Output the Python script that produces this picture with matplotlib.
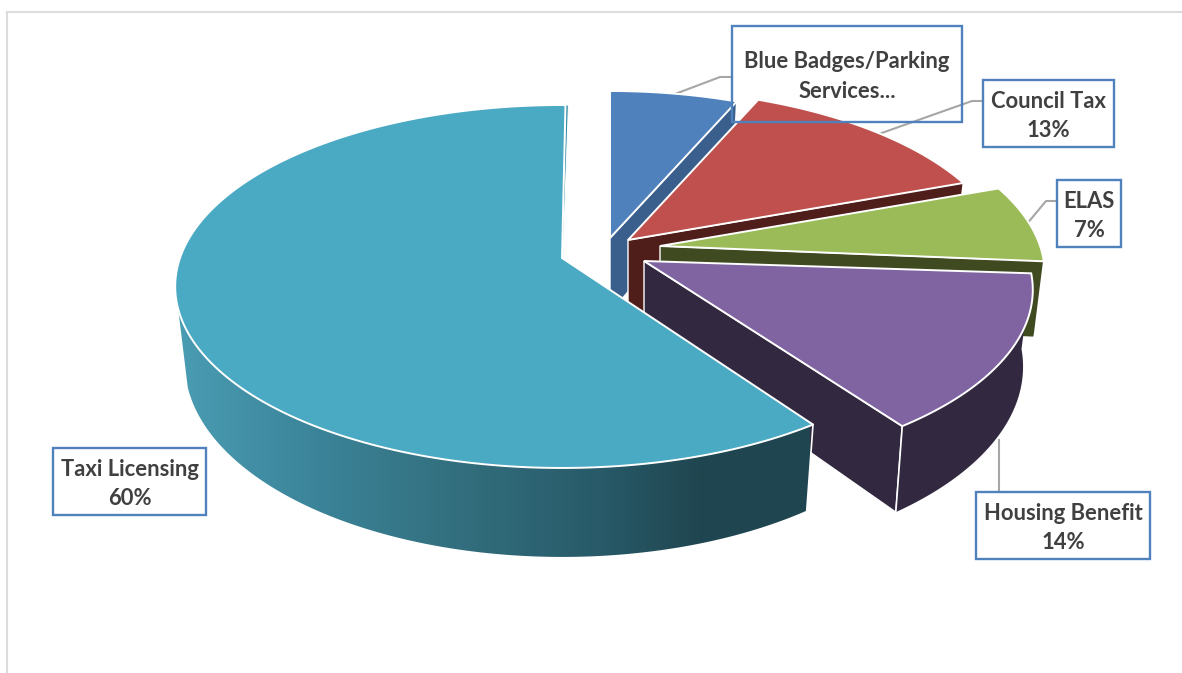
import numpy as np
import matplotlib
matplotlib.use('Agg')
import matplotlib.pyplot as plt
from matplotlib.colors import to_rgb
from matplotlib.patches import Polygon, Rectangle

# share of complaints per service, clockwise from twelve o'clock
services = ['Blue Badges/Parking', 'Council Tax', 'ELAS', 'Housing Benefit', 'Taxi Licensing']
values = [6.5, 13, 7, 14, 60]

top_colors = ['#4f81bd', '#c0504d', '#9bbb59', '#8064a2', '#4aa9c3']
side_colors = ['#3a5f8c', '#4f1d1a', '#3f4a20', '#322840', '#3a8fa5']

# pixel layout of the exploded slices
apex = [(610, 238), (628, 240), (660, 246), (644, 261), (562, 258)]
slice_scale = [0.955, 0.985, 0.995, 1.005, 1.0]
slice_turn = [0, 0, 0, 1.0, 0]

label_text = ['Blue Badges/Parking\nServices...', 'Council Tax\n13%', 'ELAS\n7%',
              'Housing Benefit\n14%', 'Taxi Licensing\n60%']
label_box = [(732, 26, 962, 122), (983, 80, 1114, 147), (1057, 180, 1121, 247),
             (976, 492, 1150, 559), (53, 448, 206, 515)]
leaders = [[(675, 94), (720, 77), (732, 77)],
           [(876, 135), (972, 101), (983, 101)],
           [(1026, 225), (1046, 201), (1057, 201)],
           [(999, 440), (999, 492)]]

RX, RY = 382, 177
PERSP = 0.157
DEPTH = 75
SHRINK = 0.025


def project(center, scale, t, z=0.0):
    # t in degrees on the pie disc, z=0 top surface, z=1 bottom
    x = scale * np.cos(np.radians(t))
    y = scale * np.sin(np.radians(t))
    w = 1 + PERSP * y
    s = 1 - SHRINK * z
    return np.column_stack([center[0] + RX * x * s / w,
                            center[1] - RY * y / w + DEPTH * z / w])


def wall_gradient():
    # taxi slice wall gets darker from left to right
    stops_x = [175, 320, 450, 600, 700, 810]
    stops_c = ['#4a9db4', '#3b8398', '#33707f', '#285a69', '#204650', '#1f4650']
    rgb = np.array([to_rgb(c) for c in stops_c])
    px = np.arange(stops_x[0], stops_x[-1] + 1)
    return np.dstack([np.interp(px, stops_x, rgb[:, i]) for i in range(3)]), stops_x[0], stops_x[-1]


fig = plt.figure(figsize=(11.82, 6.73), dpi=100)
ax = fig.add_axes([0, 0, 1, 1])
ax.axis('off')

# chart area frame
ax.plot([7, 7, 1182], [673, 12, 12], color='#dcdcdc', lw=1.5, solid_joinstyle='miter', zorder=1)

for pts in leaders:
    pts = np.array(pts)
    ax.plot(pts[:, 0], pts[:, 1], color='#a6a6a6', lw=1.5, zorder=2)

z = 3
angle = 90.0
total = sum(values)
for i in range(len(values)):
    end = angle - values[i] / total * 360
    c = apex[i]
    sc = slice_scale[i]
    low_c = (c[0], c[1] + DEPTH)

    if services[i] == 'Taxi Licensing':
        # long way round, counter-clockwise from the top
        stop = 90 + values[i] / total * 360
        ts = np.linspace(90 - 0.6, stop, 400)
        rim_top = project(c, sc, ts)
        # wall only needs the part facing the viewer
        ts_front = np.linspace(196, stop, 200)
        front_top = project(c, sc, ts_front)
        front_bot = project(c, sc, ts_front, 1)
        wall = np.vstack([front_top, front_bot[::-1]])
        grad, g0, g1 = wall_gradient()
        im = ax.imshow(grad, extent=(g0, g1, 570, 100), aspect='auto', zorder=z)
        clip = Polygon(wall, closed=True, transform=ax.transData)
        im.set_clip_path(clip)
        z += 1
        # thin cut face at twelve o'clock
        face = [c, rim_top[0], (rim_top[0][0] + 3, rim_top[0][1]), (c[0] + 1, c[1])]
        ax.add_patch(Polygon(face, closed=True, fc=side_colors[i], ec='white', lw=0.8, zorder=z))
        z += 1
        ax.plot([front_top[-1][0], front_bot[-1][0]], [front_top[-1][1], front_bot[-1][1]],
                color='white', lw=1.2, zorder=z + 1)
    else:
        ts = np.linspace(angle, end, 120) + slice_turn[i]
        rim_top = project(c, sc, ts)
        rim_bot = project(c, sc, ts, 1)
        # radial cut face on the clockwise side
        face = [c, rim_top[-1], rim_bot[-1], low_c]
        ax.add_patch(Polygon(face, closed=True, fc=side_colors[i], ec='white', lw=1.0, zorder=z))
        z += 1
        wall = np.vstack([rim_top, rim_bot[::-1]])
        ax.add_patch(Polygon(wall, closed=True, fc=side_colors[i], ec='none', zorder=z))
        z += 1
        ax.plot([rim_top[-1][0], rim_bot[-1][0]], [rim_top[-1][1], rim_bot[-1][1]],
                color='white', lw=1.2, zorder=z)
        z += 1

    top = np.vstack([[c], rim_top])
    ax.add_patch(Polygon(top, closed=True, fc=top_colors[i], ec='white', lw=1.4, zorder=z + 2))
    z += 3
    angle = end

# data labels sit on top, boxes are not filled
for txt, box in zip(label_text, label_box):
    x0, y0, x1, y1 = box
    ax.add_patch(Rectangle((x0, y0), x1 - x0, y1 - y0, fc='none', ec='#4f81bd', lw=1.7, zorder=z))
    ax.text((x0 + x1) / 2, (y0 + y1) / 2 + 2.5, txt, ha='center', va='center', family='Lato',
            fontweight='bold', fontsize=15.8, color='#404040', linespacing=1.5, zorder=z + 1)

ax.set_xlim(0, 1182)
ax.set_ylim(673, 0)
fig.savefig('out.png', dpi=100)
